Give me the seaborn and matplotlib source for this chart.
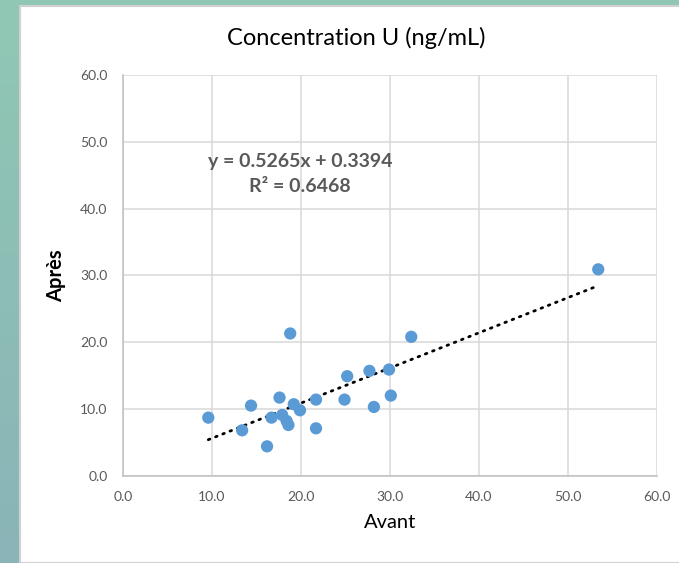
import matplotlib
matplotlib.use("Agg")
import matplotlib.pyplot as plt
import numpy as np
import pandas as pd
import seaborn as sns
from matplotlib.patches import Rectangle

# data
avant = [9.6, 13.4, 14.4, 16.2, 16.7, 17.6, 17.9, 18.4, 18.6, 18.8, 19.2,
         19.9, 21.7, 21.7, 24.9, 25.2, 27.7, 28.2, 29.9, 30.1, 32.4, 53.4]
apres = [8.7, 6.8, 10.5, 4.4, 8.7, 11.7, 9.1, 8.2, 7.6, 21.3, 10.7,
         9.8, 11.4, 7.1, 11.4, 14.9, 15.7, 10.3, 15.9, 12.0, 20.8, 30.9]
slope = 0.5265
intercept = 0.3394
r2 = 0.6468
ticks = [0, 10, 20, 30, 40, 50, 60]

df = pd.DataFrame({"Avant": avant, "Après": apres})
x_fit = np.array([min(avant), max(avant)])
fit = pd.DataFrame({"x": x_fit, "y": slope * x_fit + intercept})

sns.set_theme(style="whitegrid")
plt.rcParams["font.family"] = ["Lato", "DejaVu Sans"]

fig = plt.figure(figsize=(6.79, 5.63), dpi=100)

# teal slide background + white chart area
bg = fig.add_axes([0, 0, 1, 1], zorder=-10)
grad = np.linspace(0, 1, 256).reshape(-1, 1)
cmap = matplotlib.colors.LinearSegmentedColormap.from_list("bg", ["#90c8b4", "#8ab4b8"])
bg.imshow(grad, aspect="auto", cmap=cmap, extent=[0, 1, 0, 1])
bg.add_patch(Rectangle((20 / 679, 0), 1, 1 - 6 / 563, facecolor="white",
                       edgecolor="#d0d0d0", linewidth=1.5))
bg.set_xlim(0, 1)
bg.set_ylim(0, 1)
bg.axis("off")

ax = fig.add_axes([0.1809, 0.155, 0.7867, 0.7118])
ax.set_facecolor("white")

sns.scatterplot(data=df, x="Avant", y="Après", ax=ax, color="#5b9bd5",
                s=78, edgecolor="none", zorder=3)
sns.lineplot(data=fit, x="x", y="y", ax=ax, color="black", linewidth=2.0,
             linestyle=(0, (0.6, 2.2)), dash_capstyle="round", zorder=2)

ax.set_xlim(0, 60)
ax.set_ylim(0, 60)
ax.set_xticks(ticks)
ax.set_yticks(ticks)
ax.set_xticklabels([f"{t:.1f}" for t in ticks])
ax.set_yticklabels([f"{t:.1f}" for t in ticks])
ax.tick_params(axis="both", colors="#595959", labelsize=10, length=0)
ax.tick_params(axis="x", pad=11)
ax.tick_params(axis="y", pad=11)
ax.grid(True, color="#d9d9d9", linewidth=1.1)
for side in ["top", "right"]:
    ax.spines[side].set_visible(False)
for side in ["left", "bottom"]:
    ax.spines[side].set_color("#bfbfbf")
    ax.spines[side].set_linewidth(1.1)

ax.set_xlabel("Avant", fontsize=14.5, color="black", labelpad=8)
ax.set_ylabel("Après", fontsize=14.5, color="black", fontweight="bold", labelpad=10)
fig.text(356 / 679, 1 - 38 / 563, "Concentration U (ng/mL)", fontsize=17,
         color="black", ha="center", va="center")

ax.text(19.9, 45.2, f"y = {slope}x + {intercept}\nR² = {r2}", ha="center", va="center",
        fontsize=14, fontweight="bold", color="#595959", linespacing=1.55)

fig.savefig("out.png", dpi=100)
